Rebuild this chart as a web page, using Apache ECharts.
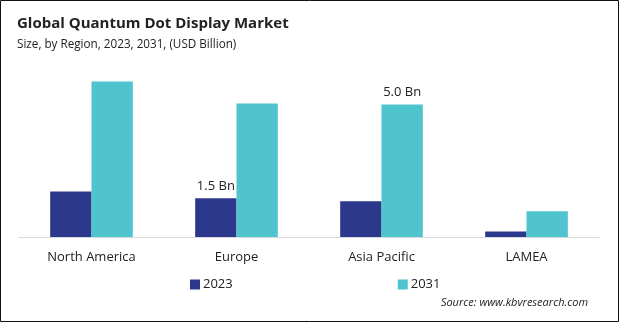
<!DOCTYPE html>
<html>
<head>
<meta charset="utf-8">
<script src="https://cdn.jsdelivr.net/npm/echarts@6/dist/echarts.min.js"></script>
<style>
html,body{margin:0;padding:0;background:#fff;}
#c{width:619px;height:322px;}
</style>
</head>
<body>
<div id="c"></div>
<script>
const categories = ["North America", "Europe", "Asia Pacific", "LAMEA"];
const values2023 = [1.72, 1.46, 1.35, 0.21];
const values2031 = [5.87, 5.04, 5.0, 0.97];
const labeled2023 = [false, true, false, false];
const labeled2031 = [false, false, true, false];
const seriesNames = ["2023", "2031"];

const chart = echarts.init(document.getElementById('c'), null, {renderer: 'canvas'});
const font = '"Open Sans", "Noto Sans", sans-serif';

function mk(vals, flags) {
  return vals.map((v, i) => ({
    value: v,
    label: {show: flags[i], position: 'top', distance: 6, color: '#222', fontSize: 13, fontFamily: font,
      formatter: p => p.value.toFixed(1) + ' Bn'}
  }));
}

chart.setOption({
  animation: false,
  backgroundColor: '#fff',
  title: [
    {text: 'Global Quantum Dot Display Market', left: 12, top: 11,
     textStyle: {fontSize: 15, fontWeight: 'bold', color: '#222', fontFamily: font}},
    {text: 'Size, by Region, 2023, 2031, (USD Billion)', left: 12, top: 34,
     textStyle: {fontSize: 11.7, fontWeight: 'normal', color: '#222', fontFamily: font}}
  ],
  grid: {left: 19, right: 20, top: 78, bottom: 85, containLabel: false},
  xAxis: {
    type: 'category', data: categories,
    axisLine: {lineStyle: {color: '#d9d9d9', width: 1}},
    axisTick: {show: false},
    axisLabel: {color: '#222', fontSize: 13, fontFamily: font, margin: 14}
  },
  yAxis: {type: 'value', min: 0, max: 6, show: false, splitLine: {show: false}},
  legend: {
    data: seriesNames, top: 278, left: 190, padding: 0, itemGap: 165,
    itemWidth: 10, itemHeight: 10, icon: 'rect',
    textStyle: {color: '#222', fontSize: 13, fontFamily: font, padding: [0, 0, 0, -2]}
  },
  series: [
    {name: seriesNames[0], type: 'bar', data: mk(values2023, labeled2023), barGap: '0%', barCategoryGap: '43%',
     itemStyle: {color: '#2C388C'}},
    {name: seriesNames[1], type: 'bar', data: mk(values2031, labeled2031),
     itemStyle: {color: '#4FC3CE'}}
  ],
  graphic: [
    {type: 'text', right: 31, top: 297,
     style: {text: 'Source: www.kbvresearch.com', fill: '#222', fontSize: 11, fontStyle: 'italic', fontFamily: font}},
    {type: 'rect', shape: {x: 0.5, y: 0.5, width: 618, height: 321},
     style: {fill: null, stroke: '#111', lineWidth: 1}, silent: true}
  ]
});
</script>
</body>
</html>
